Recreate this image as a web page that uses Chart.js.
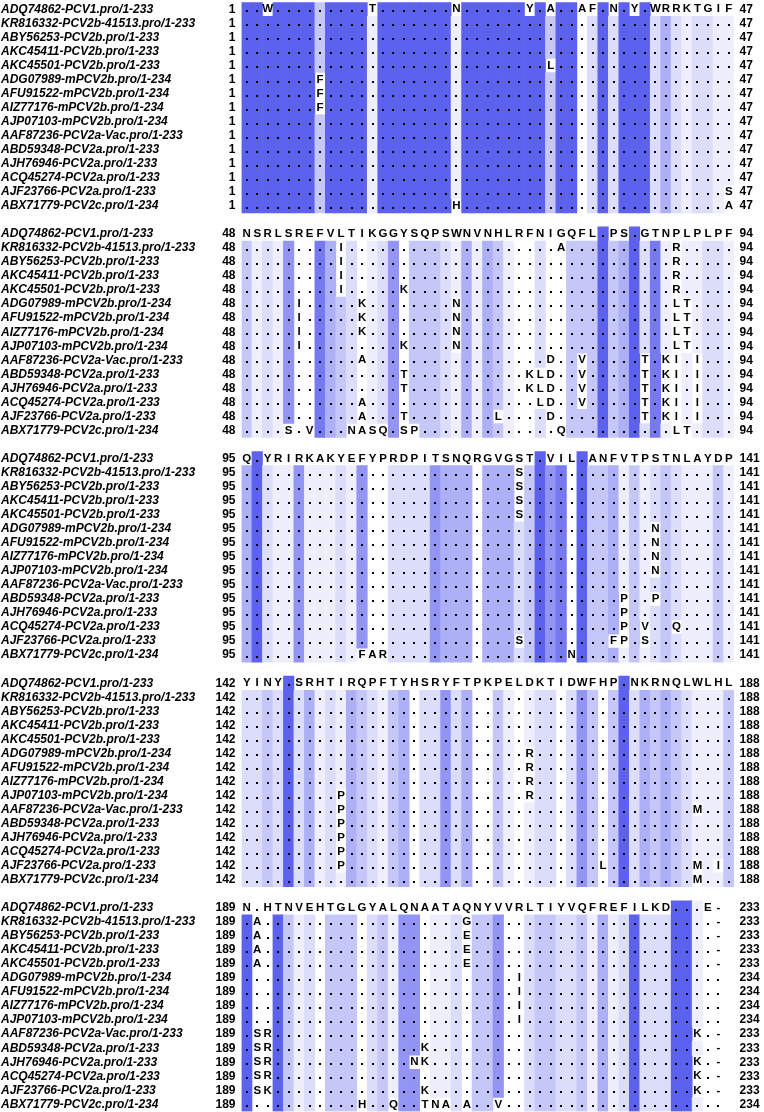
<!DOCTYPE html>
<html>
<head>
<meta charset="utf-8">
<script src="https://cdn.jsdelivr.net/npm/chart.js@4.4.1/dist/chart.umd.min.js"></script>
<style>
    html, body { margin: 0; padding: 0; background: #fff; }
    canvas { display: block; }
</style>
</head>
<body>
<canvas id="aln" width="764" height="1112"></canvas>
<script>
// sequence names and full lengths
const seqNames = [
    "ADQ74862-PCV1.pro/1-233",
    "KR816332-PCV2b-41513.pro/1-233",
    "ABY56253-PCV2b.pro/1-233",
    "AKC45411-PCV2b.pro/1-233",
    "AKC45501-PCV2b.pro/1-233",
    "ADG07989-mPCV2b.pro/1-234",
    "AFU91522-mPCV2b.pro/1-234",
    "AIZ77176-mPCV2b.pro/1-234",
    "AJP07103-mPCV2b.pro/1-234",
    "AAF87236-PCV2a-Vac.pro/1-233",
    "ABD59348-PCV2a.pro/1-233",
    "AJH76946-PCV2a.pro/1-233",
    "ACQ45274-PCV2a.pro/1-233",
    "AJF23766-PCV2a.pro/1-233",
    "ABX71779-PCV2c.pro/1-234"
];
const seqEnds = [233, 233, 233, 233, 233, 234, 234, 234, 234, 233, 233, 233, 233, 233, 234];
const blockStarts = [1, 48, 95, 142, 189];

// residues per block ("." = same as consensus), spaces only group by 10
const block1 = [
    "..W....... ..T....... N......Y.A ..AF.N.Y.W RRKTGIF",
    ".......... .......... .......... .......... .......",
    ".......... .......... .......... .......... .......",
    ".......... .......... .......... .......... .......",
    ".......... .......... .........L .......... .......",
    ".......F.. .......... .......... .......... .......",
    ".......F.. .......... .......... .......... .......",
    ".......F.. .......... .......... .......... .......",
    ".......... .......... .......... .......... .......",
    ".......... .......... .......... .......... .......",
    ".......... .......... .......... .......... .......",
    ".......... .......... .......... .......... .......",
    ".......... .......... .......... .......... .......",
    ".......... .......... .......... .......... ......S",
    ".......... .......... H......... .......... ......A"
];
const block2 = [
    "NSRLSREFVL TIKGGYSQPS WNVNHLRFNI GQFL.PS.GT NPLPLPF",
    ".........I .......... .......... A......... .R.....",
    ".........I .......... .......... .......... .R.....",
    ".........I .......... .......... .......... .R.....",
    ".........I .....K.... .......... .......... .R.....",
    ".....I.... .K........ N......... .......... .LT....",
    ".....I.... .K........ N......... .......... .LT....",
    ".....I.... .K........ N......... .......... .LT....",
    ".....I.... .....K.... N......... .......... .LT....",
    ".......... .A........ .........D ..V.....T. KI.I...",
    ".......... .....T.... .......KLD ..V.....T. KI.I...",
    ".......... .....T.... .......KLD ..V.....T. KI.I...",
    ".......... .A........ ........LD ..V.....T. KI.I...",
    ".......... .A...T.... ....L....D ........T. KI.I...",
    "....S.V... NASQ.SP... .......... Q......... .LT...."
];
const block3 = [
    "Q.YRIRKAKY EFYPRDPITS NQRGVGST.V IL.ANFVTPS TNLAYDP",
    ".......... .......... ......S... .......... .......",
    ".......... .......... ......S... .......... .......",
    ".......... .......... ......S... .......... .......",
    ".......... .......... ......S... .......... .......",
    ".......... .......... .......... .........N .......",
    ".......... .......... .......... .........N .......",
    ".......... .......... .......... .........N .......",
    ".......... .......... .......... .........N .......",
    ".......... .......... .......... .......... .......",
    ".......... .......... .......... ......P..P .......",
    ".......... .......... .......... ......P... .......",
    ".......... .......... .......... ......P.V. .Q.....",
    ".......... .......... ......S... .....FP.S. .......",
    ".......... .FAR...... .......... .N........ ......."
];
const block4 = [
    "YINY.SRHTI RQPFTYHSRY FTPKPELDKT IDWFHP.NKR NQLWLHL",
    ".......... .......... .......... .......... .......",
    ".......... .......... .......... .......... .......",
    ".......... .......... .......... .......... .......",
    ".......... .......... .......... .......... .......",
    ".......... .......... .......R.. .......... .......",
    ".......... .......... .......R.. .......... .......",
    ".......... .......... .......R.. .......... .......",
    ".........P .......... .......R.. .......... .......",
    ".........P .......... .......... .......... ...M...",
    ".........P .......... .......... .......... .......",
    ".........P .......... .......... .......... .......",
    ".........P .......... .......... .......... .......",
    ".........P .......... .......... ....L..... ...M.I.",
    ".......... .......... .......... .......... ...M..."
];
const block5 = [
    "N.HTNVEHTG LGYALQNAAT AQNYVVRLTI YVQFREFILK D...E-",
    ".A........ .......... .G........ .......... .....-",
    ".A........ .......... .E........ .......... .....-",
    ".A........ .......... .E........ .......... .....-",
    ".A........ .......... .E........ .......... .....-",
    ".......... .......... ......I... .......... ......",
    ".......... .......... ......I... .......... ......",
    ".......... .......... ......I... .......... ......",
    ".......... .......... ......I... .......... ......",
    ".SR....... .......... .......... .......... ...K.-",
    ".SR....... .......K.. .......... .......... .....-",
    ".SR....... ......NK.. .......... .......... ...K.-",
    ".SR....... .......... .......... .......... ...K.-",
    ".SK....... .......K.. .......... .......... ...K.-",
    ".......... .H..Q..TNA .A..V..... .......... ......"
];

// conservation level of each column, 0 (none) .. 7 (full)
const conservation1 = "7777777377 7717777777 1777777773 7702727772 4212211";
const conservation2 = "3121500643 2012503332 1414310020 0333734726 1111221";
const conservation3 = "4721151112 1500222254 4404442375 6073341312 3211131";
const conservation4 = "2232724121 4321340225 2400310122 0253037243 4321113";
const conservation5 = "7007312033 3023155011 2033500233 2231412722 277100";

const shades = ["#ffffff", "#eeeefd", "#dcddfb", "#c6c7f9", "#aeb0f7", "#9295f4", "#7679f1", "#5c61ee"];
const ROWS_PER_BLOCK = 16; // 15 sequences + one blank line

const blocks = [block1, block2, block3, block4, block5].map(b => b.map(s => s.replace(/ /g, "")));
const levels = [conservation1, conservation2, conservation3, conservation4, conservation5]
    .map(s => s.replace(/ /g, "").split("").map(Number));

// coloured cells: runs of consensus residues in each column
const cells = [];
blocks.forEach((rows, b) => {
    const ncol = rows[0].length;
    for (let c = 0; c < ncol; c++) {
        const lvl = levels[b][c];
        if (!lvl) continue;
        let r = 0;
        while (r < rows.length) {
            if (rows[r][c] !== ".") { r++; continue; }
            let r1 = r;
            while (r1 + 1 < rows.length && rows[r1 + 1][c] === ".") r1++;
            cells.push({ x: c, y: [b * ROWS_PER_BLOCK + r - 0.5, b * ROWS_PER_BLOCK + r1 + 0.5], lvl: lvl });
            r = r1 + 1;
        }
    }
});

const FONT = "'Liberation Sans', Arial, sans-serif";

// letters, dots, names and numbers
const alignmentText = {
    id: "alignmentText",
    afterDatasetsDraw(chart) {
        const { ctx, scales: { x, y } } = chart;
        ctx.save();
        ctx.textBaseline = "middle";
        ctx.fillStyle = "#000";
        blocks.forEach((rows, b) => {
            const last = b === blocks.length - 1;
            rows.forEach((seq, r) => {
                const py = y.getPixelForValue(b * ROWS_PER_BLOCK + r);

                ctx.font = "italic bold 12px " + FONT;
                ctx.textAlign = "left";
                ctx.fillText(seqNames[r], 1, py);

                ctx.font = "bold 12px " + FONT;
                ctx.textAlign = "right";
                ctx.fillText(String(blockStarts[b]), x.left - 6, py);

                ctx.font = "bold 11.5px " + FONT;
                ctx.textAlign = "center";
                for (let c = 0; c < seq.length; c++) {
                    const px = x.getPixelForValue(c);
                    if (seq[c] === ".") {
                        ctx.fillRect(Math.round(px) - 1, Math.round(py) + 1, 2, 2);
                    } else {
                        ctx.fillText(seq[c], px, py);
                    }
                }

                ctx.font = "bold 12px " + FONT;
                ctx.textAlign = "left";
                const end = last ? seqEnds[r] : blockStarts[b + 1] - 1;
                ctx.fillText(String(end), x.right + 5.5, py);
            });
        });
        ctx.restore();
    }
};

new Chart(document.getElementById("aln").getContext("2d"), {
    type: "bar",
    data: {
        datasets: [{
            data: cells,
            backgroundColor: cells.map(c => shades[c.lvl]),
            borderWidth: 0,
            barPercentage: 1,
            categoryPercentage: 1
        }]
    },
    options: {
        responsive: false,
        animation: false,
        devicePixelRatio: 1,
        layout: { padding: { left: 241.5, right: 29.9, top: 2.3, bottom: 0.6 } },
        scales: {
            x: { type: "linear", min: -0.5, max: 46.5, offset: false, display: false },
            y: { type: "linear", min: -0.5, max: 5 * ROWS_PER_BLOCK - 1.5, reverse: true, display: false }
        },
        plugins: { legend: { display: false }, tooltip: { enabled: false } }
    },
    plugins: [alignmentText]
});
</script>
</body>
</html>
